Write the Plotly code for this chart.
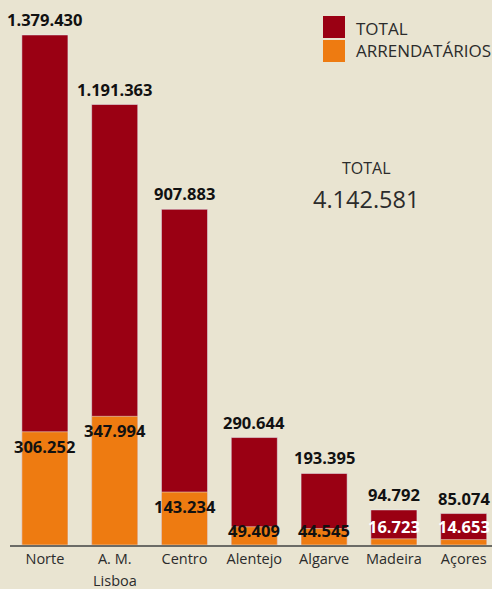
import plotly.graph_objects as go

regions = ["Norte", "A. M. Lisboa", "Centro", "Alentejo", "Algarve", "Madeira", "Açores"]
tick_labels = ["Norte", "A. M.", "Centro", "Alentejo", "Algarve", "Madeira", "Açores"]
total = [1379430, 1191363, 907883, 290644, 193395, 94792, 85074]
arrendatarios = [306252, 347994, 143234, 49409, 44545, 16723, 14653]

RED = "#9a0013"
ORANGE = "#ee7b11"
BG = "#e9e4d1"
TXT = "#2b2b2b"
NUMFONT = "Open Sans"
NUMSIZE = 16.5

def fmt(v):
    return f"{v:,}".replace(",", ".")

fig = go.Figure()
fig.add_trace(go.Bar(
    x=regions, y=total, marker_color=RED, width=0.66,
    showlegend=False, hoverinfo="skip",
))
fig.add_trace(go.Bar(
    x=regions, y=arrendatarios, marker_color=ORANGE, width=0.66,
    showlegend=False, hoverinfo="skip",
))

annotations = []
for r, v in zip(regions, total):
    annotations.append(dict(
        x=r, y=v, xref="x", yref="y", text=fmt(v), showarrow=False,
        yanchor="bottom", yshift=3, borderpad=0,
        font=dict(family=NUMFONT, size=NUMSIZE, color="#111111", weight="bold"),
    ))

for r, v in zip(regions, arrendatarios):
    small = v < 60000
    white = v < 30000
    if small:
        annotations.append(dict(
            x=r, y=0, xref="x", yref="y", text=fmt(v), showarrow=False,
            yanchor="bottom", yshift=(6 if white else 2), borderpad=0,
            font=dict(family=NUMFONT, size=NUMSIZE, color=("white" if white else "#111111"), weight="bold"),
        ))
    else:
        annotations.append(dict(
            x=r, y=v, xref="x", yref="y", text=fmt(v), showarrow=False,
            yanchor="top", yshift=-2, borderpad=0,
            font=dict(family=NUMFONT, size=NUMSIZE, color="#111111", weight="bold"),
        ))

# second line of the A. M. Lisboa label
annotations.append(dict(
    x=regions[1], y=0, xref="x", yref="y", text="Lisboa", showarrow=False,
    yanchor="middle", yshift=-35, font=dict(family="Open Sans", size=14.5, color=TXT),
))

W, H = 492, 589
L, R, T, B = 10, 0, 0, 44
pw, ph = W - L - R, H - T - B

def px_x(x):
    return (x - L) / pw

def px_y(y):
    return (H - B - y) / ph

shapes = [
    dict(type="rect", xref="paper", yref="paper", x0=px_x(323), x1=px_x(345),
         y0=px_y(38), y1=px_y(16), fillcolor=RED, line=dict(width=0), layer="above"),
    dict(type="rect", xref="paper", yref="paper", x0=px_x(323), x1=px_x(345),
         y0=px_y(62), y1=px_y(40), fillcolor=ORANGE, line=dict(width=0), layer="above"),
]
annotations += [
    dict(xref="paper", yref="paper", x=px_x(354), y=px_y(28), text="TOTAL", showarrow=False,
         xanchor="left", yanchor="middle", font=dict(family="Open Sans", size=17, color=TXT)),
    dict(xref="paper", yref="paper", x=px_x(354), y=px_y(51), text="ARRENDATÁRIOS", showarrow=False,
         xanchor="left", yanchor="middle", font=dict(family="Open Sans", size=17, color=TXT)),
    dict(xref="paper", yref="paper", x=px_x(366), y=px_y(168), text="TOTAL", showarrow=False,
         xanchor="center", yanchor="middle", font=dict(family="Open Sans", size=16, color=TXT)),
    dict(xref="paper", yref="paper", x=px_x(366), y=px_y(199), text=fmt(sum(total)), showarrow=False,
         xanchor="center", yanchor="middle", font=dict(family="Open Sans", size=23.5, color=TXT)),
]

fig.update_layout(
    width=W, height=H, margin=dict(l=L, r=R, t=T, b=B),
    paper_bgcolor=BG, plot_bgcolor=BG, barmode="overlay",
    annotations=annotations, shapes=shapes,
    xaxis=dict(tickmode="array", tickvals=regions, ticktext=tick_labels,
               range=[-0.5, -0.5 + pw / 69.8], showline=True, linecolor="#6b6b66", linewidth=2,
               tickfont=dict(family="Open Sans", size=14.5, color=TXT), ticks="", showgrid=False),
    yaxis=dict(range=[0, 1474000], visible=False, showgrid=False),
)
fig.write_html("out.html")
